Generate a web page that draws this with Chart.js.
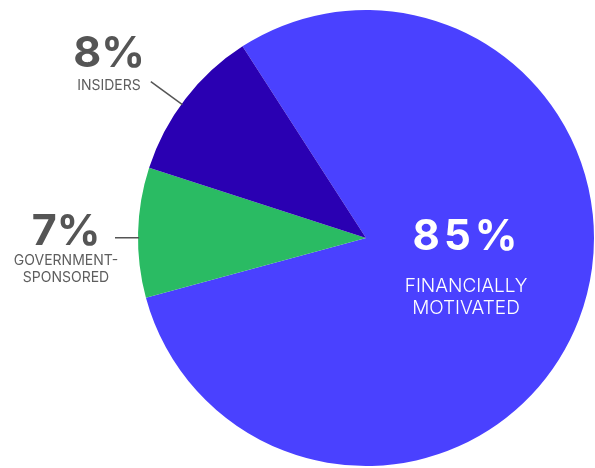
<!DOCTYPE html>
<html>
<head>
<meta charset="utf-8">
<script src="https://cdn.jsdelivr.net/npm/chart.js@4"></script>
<style>
  html, body { margin: 0; padding: 0; background: #ffffff; }
  #c { display: block; }
</style>
</head>
<body>
<canvas id="c" width="595" height="468"></canvas>
<script>
// ---- data (slice shares as drawn in the picture, clockwise) ----
const categories = ['FINANCIALLY MOTIVATED', 'GOVERNMENT-SPONSORED', 'INSIDERS'];
const sliceValues = [79.9, 9.2, 10.9];
const percentLabels = ['85%', '7%', '8%'];
const nameLines = [['FINANCIALLY', 'MOTIVATED'], ['GOVERNMENT-', 'SPONSORED'], ['INSIDERS']];
const colors = ['#4A41FF', '#2ABB63', '#2A00B2'];

const labelPlugin = {
  id: 'pieLabels',
  afterDatasetsDraw(chart) {
    const ctx = chart.ctx;
    const arcs = chart.getDatasetMeta(0).data;
    ctx.save();
    // inside label for the big slice
    {
      const a = arcs[0];
      const cx = a.x + 100, cy = a.y;
      ctx.fillStyle = '#ffffff';
      ctx.textAlign = 'center';
      ctx.textBaseline = 'alphabetic';
      ctx.font = '700 42px Inter';
      ctx.letterSpacing = '4px';
      ctx.fillText(percentLabels[0], cx + 1, cy + 12);
      ctx.letterSpacing = '0px';
      ctx.font = '300 19px Inter';
      ctx.fillText(nameLines[0][0], cx, cy + 54);
      ctx.fillText(nameLines[0][1], cx, cy + 75.5);
    }
    // outside labels with radial leader lines
    const outside = [
      { i: 2, len: 38, px: 109, py: 67, ny: 90 },
      { i: 1, len: 23, px: 66, py: 245, ny: 265 }
    ];
    outside.forEach(o => {
      const a = arcs[o.i];
      const ang = a.startAngle + (a.endAngle - a.startAngle) * 0.46;
      const r = a.outerRadius;
      const x1 = a.x + Math.cos(ang) * (r - 1), y1 = a.y + Math.sin(ang) * (r - 1);
      const x2 = a.x + Math.cos(ang) * (r + o.len), y2 = a.y + Math.sin(ang) * (r + o.len);
      ctx.strokeStyle = '#555555';
      ctx.lineWidth = 1.5;
      ctx.beginPath();
      ctx.moveTo(x1, y1);
      ctx.lineTo(x2, y2);
      ctx.stroke();
      ctx.fillStyle = '#555555';
      ctx.textAlign = 'center';
      ctx.font = '700 43px Inter';
      ctx.fillText(percentLabels[o.i], o.px, o.py);
      ctx.fillStyle = '#5e5e5e';
      ctx.font = '400 14px Inter';
      nameLines[o.i].forEach((t, k) => ctx.fillText(t, o.px, o.ny + k * 16.5));
    });
    ctx.restore();
  }
};

new Chart(document.getElementById('c'), {
  type: 'pie',
  data: {
    labels: categories,
    datasets: [{
      data: sliceValues,
      backgroundColor: colors,
      borderWidth: 0,
      hoverOffset: 0
    }]
  },
  options: {
    responsive: false,
    animation: false,
    rotation: -32.8,
    layout: { padding: { left: 138, right: 1, top: 10, bottom: 2 } },
    plugins: { legend: { display: false }, tooltip: { enabled: false } }
  },
  plugins: [labelPlugin]
});
</script>
</body>
</html>
